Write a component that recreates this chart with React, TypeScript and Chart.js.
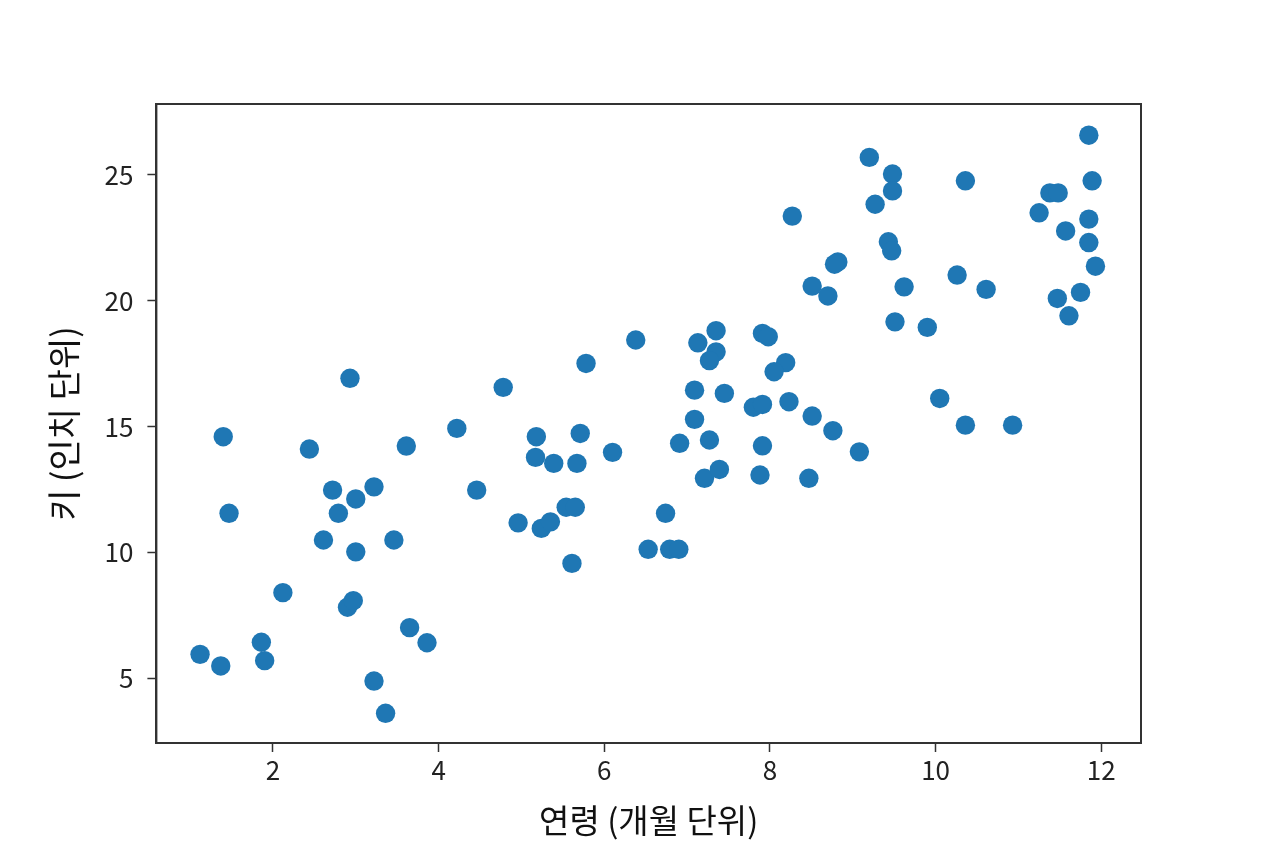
import React, { useEffect, useRef } from "react";
import { Chart, registerables } from "chart.js";

Chart.register(...registerables);

const ages: number[] = [
  1.12, 1.37, 1.40, 1.47, 1.86, 1.90, 2.12, 2.44, 2.61, 2.72,
  2.79, 2.90, 2.97, 2.93, 3.00, 3.00, 3.22, 3.22, 3.36, 3.46,
  3.61, 3.65, 3.86, 4.22, 4.46, 4.78, 4.96, 5.18, 5.17, 5.24,
  5.35, 5.39, 5.54, 5.65, 5.67, 5.71, 5.61, 5.78, 6.10, 6.38,
  6.53, 6.74, 6.79, 6.90, 6.91, 7.09, 7.09, 7.13, 7.27, 7.35,
  7.35, 7.27, 7.21, 7.39, 7.45, 7.91, 7.98, 8.19, 8.05, 8.23,
  7.80, 7.91, 7.91, 7.88, 8.51, 8.76, 9.08, 8.47, 8.27, 9.20,
  9.48, 9.48, 9.27, 9.43, 9.47, 8.82, 8.78, 8.51, 8.70, 9.62,
  9.51, 9.90, 10.05, 10.26, 10.36, 10.61, 10.36, 10.93, 11.25, 11.38,
  11.48, 11.47, 11.57, 11.61, 11.75, 11.85, 11.85, 11.85, 11.89, 11.93,
];

const heights: number[] = [
  5.96, 5.50, 14.60, 11.56, 6.44, 5.71, 8.41, 14.11, 10.50, 12.48,
  11.56, 7.83, 8.09, 16.92, 12.13, 10.03, 12.61, 4.90, 3.62, 10.50,
  14.23, 7.02, 6.42, 14.93, 12.48, 16.56, 11.18, 14.60, 13.78, 10.96,
  11.22, 13.54, 11.80, 11.80, 13.54, 14.73, 9.57, 17.51, 13.98, 18.44,
  10.13, 11.56, 10.13, 10.13, 14.34, 16.45, 15.29, 18.33, 14.47, 18.81,
  17.97, 17.62, 12.95, 13.30, 16.32, 18.70, 18.57, 17.54, 17.18, 15.99,
  15.77, 15.88, 14.24, 13.08, 15.42, 14.84, 14.00, 12.95, 23.36, 25.69,
  25.03, 24.36, 23.83, 22.34, 21.98, 21.54, 21.45, 20.58, 20.19, 20.55,
  19.16, 18.94, 16.12, 21.02, 24.76, 20.45, 15.06, 15.06, 23.49, 24.28,
  24.28, 20.09, 22.77, 19.40, 20.33, 26.57, 23.24, 22.31, 24.76, 21.37,
];

const xTicks: number[] = [2, 4, 6, 8, 10, 12];
const yTicks: number[] = [5, 10, 15, 20, 25];
const xLabel = "연령 (개월 단위)";
const yLabel = "키 (인치 단위)";

const FONT = "'Noto Sans CJK KR', 'Noto Sans', sans-serif";

const framePlugin = {
  id: "frame",
  afterDraw(chart: any) {
    const { ctx, chartArea } = chart;
    ctx.save();
    ctx.strokeStyle = "#333333";
    ctx.lineWidth = 2;
    ctx.strokeRect(
      chartArea.left,
      chartArea.top,
      chartArea.right - chartArea.left,
      chartArea.bottom - chartArea.top
    );
    ctx.restore();
  },
};

export default function App() {
  const ref = useRef<HTMLCanvasElement | null>(null);

  useEffect(() => {
    document.body.style.margin = "0";
    const canvas = ref.current;
    if (!canvas) return;
    const points = ages.map((a, i) => ({ x: a, y: heights[i] }));
    const chart = new Chart(canvas, {
      type: "scatter",
      data: {
        datasets: [
          {
            data: points,
            backgroundColor: "#1f77b4",
            borderWidth: 0,
            pointRadius: 9.7,
            pointHoverRadius: 9.7,
          },
        ],
      },
      options: {
        responsive: false,
        animation: false,
        events: [],
        layout: { padding: { top: 104, right: 123, left: 0, bottom: 0 } },
        plugins: {
          legend: { display: false },
          tooltip: { enabled: false },
        },
        scales: {
          x: {
            type: "linear",
            min: 0.593,
            max: 12.48,
            afterBuildTicks: (scale: any) => {
              scale.ticks = xTicks.map((v) => ({ value: v }));
            },
            afterFit: (scale: any) => {
              scale.height = 105;
            },
            grid: {
              drawOnChartArea: false,
              drawTicks: true,
              tickLength: 9,
              tickWidth: 1.5,
              tickColor: "#333333",
            },
            border: { display: true, color: "#333333", width: 2 },
            ticks: {
              color: "#222222",
              font: { family: FONT, size: 26 },
              padding: 3,
              maxRotation: 0,
            },
            title: {
              display: true,
              text: xLabel,
              color: "#111111",
              font: { family: FONT, size: 33 },
              padding: { top: 0, bottom: 8 },
            },
          },
          y: {
            type: "linear",
            min: 2.44,
            max: 27.81,
            afterBuildTicks: (scale: any) => {
              scale.ticks = yTicks.map((v) => ({ value: v }));
            },
            afterFit: (scale: any) => {
              scale.width = 156.4;
            },
            grid: {
              drawOnChartArea: false,
              drawTicks: true,
              tickLength: 9,
              tickWidth: 1.5,
              tickColor: "#333333",
            },
            border: { display: true, color: "#333333", width: 2 },
            ticks: {
              color: "#222222",
              font: { family: FONT, size: 26 },
              padding: 14,
            },
            title: {
              display: true,
              text: yLabel,
              color: "#111111",
              font: { family: FONT, size: 34 },
              padding: { top: 44, bottom: 0 },
            },
          },
        },
      },
      plugins: [framePlugin],
    });
    return () => chart.destroy();
  }, []);

  return (
    <div style={{ position: "absolute", left: 0, top: 0, width: 1264, height: 848, background: "#ffffff" }}>
      <canvas ref={ref} width={1264} height={848} />
    </div>
  );
}
